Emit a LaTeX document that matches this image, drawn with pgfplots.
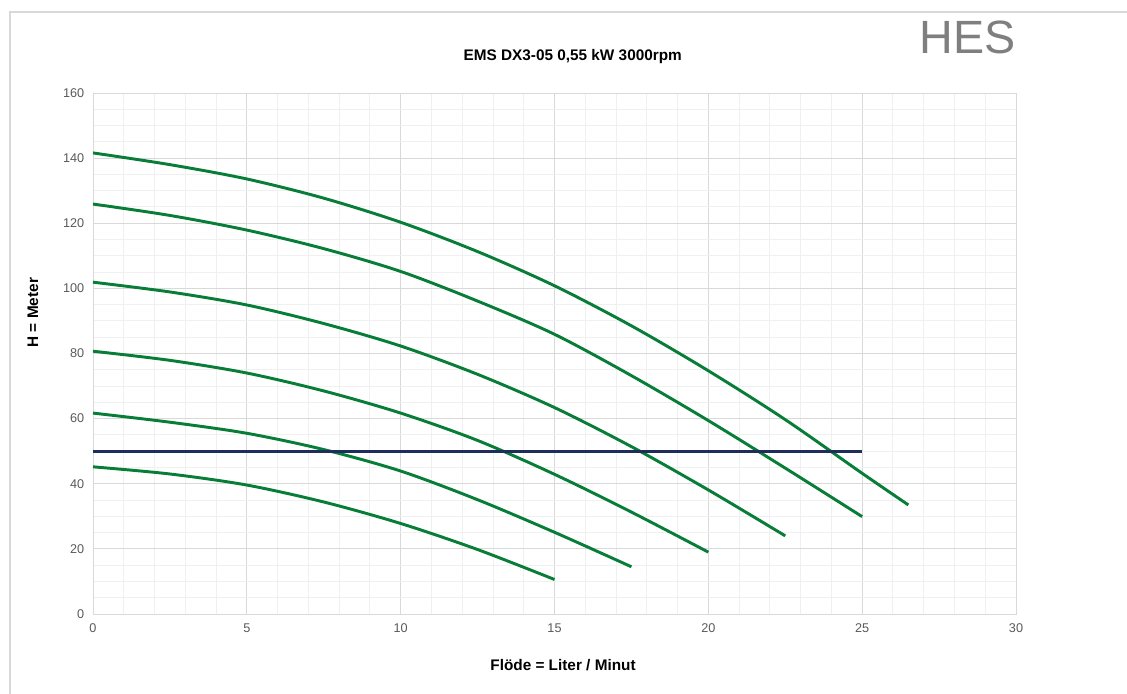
\documentclass[border=0pt]{standalone}
\usepackage{fontspec}
\setmainfont{Liberation Sans}
\usepackage{pgfplots}
\pgfplotsset{compat=1.18}
\definecolor{curvegreen}{RGB}{8,125,56}
\definecolor{navyline}{RGB}{31,45,90}
\definecolor{majgrid}{RGB}{217,217,217}
\definecolor{mingrid}{RGB}{240,240,240}
\definecolor{ticktext}{RGB}{89,89,89}
\definecolor{logogray}{RGB}{127,127,127}
\begin{document}
\begin{tikzpicture}
\path[use as bounding box] (-69.75pt,-59.25pt) rectangle (775.5pt,460.5pt);
\draw[majgrid, line width=0.9pt] (-62.25pt,-70pt) -- (-62.25pt,451.5pt) -- (790pt,451.5pt);
\begin{axis}[
  at={(0pt,0pt)}, anchor=south west,
  scale only axis,
  width=692.25pt, height=390.75pt,
  xmin=0, xmax=30, ymin=0, ymax=160,
  xtick={0,5,...,30},
  ytick={0,20,...,160},
  minor x tick num=4,
  minor y tick num=3,
  grid=both,
  major grid style={majgrid, line width=0.7pt},
  minor grid style={mingrid, line width=0.7pt},
  axis line style={majgrid, line width=0.7pt},
  tick style={draw=none},
  /pgf/number format/assume math mode=true,
  ticklabel style={font=\fontsize{9.5}{11}\selectfont, text=ticktext},
  yticklabel style={xshift=-3pt},
  xticklabel style={yshift=-4pt},
  clip=false,
]
\addplot[curvegreen, line width=2.2pt, smooth] coordinates {
 (0,141.6) (2.5,138.0) (5,133.6) (7.5,127.7) (10,120.3) (12.5,111.3) (15,100.8) (17.5,88.5) (20,74.7) (22.5,59.7) (25,43.2) (26.5,33.5)};
\addplot[curvegreen, line width=2.2pt, smooth] coordinates {
 (0,125.9) (2.5,122.4) (5,117.9) (7.5,112.2) (10,105.2) (12.5,96.1) (15,85.9) (17.5,73.2) (20,59.4) (22.5,44.8) (25,29.9)};
\addplot[curvegreen, line width=2.2pt, smooth] coordinates {
 (0,101.9) (2.5,98.9) (5,94.9) (7.5,89.2) (10,82.3) (12.5,73.6) (15,63.4) (17.5,51.4) (20,38.1) (22.5,24.0)};
\addplot[curvegreen, line width=2.2pt, smooth] coordinates {
 (0,80.7) (2.5,77.9) (5,74.0) (7.5,68.5) (10,61.7) (12.5,53.3) (15,42.9) (17.5,31.3) (20,19.0)};
\addplot[curvegreen, line width=2.2pt, smooth] coordinates {
 (0,61.7) (2.5,58.9) (5,55.5) (7.5,50.5) (10,43.9) (12.5,35.1) (15,25.1) (17.5,14.5)};
\addplot[curvegreen, line width=2.2pt, smooth] coordinates {
 (0,45.2) (2.5,43.0) (5,39.6) (7.5,34.4) (10,27.8) (12.5,19.8) (15,10.6)};
\addplot[navyline, line width=2.2pt] coordinates {(0,50) (25,50)};
\end{axis}
\node[font=\fontsize{11.5}{13}\selectfont\bfseries] at (359.8pt,417.75pt) {EMS DX3-05 0,55 kW 3000rpm};
\node[font=\fontsize{35}{40}\selectfont, text=logogray] at (655.9pt,432.4pt) {HES};
\node[font=\fontsize{11.5}{13}\selectfont\bfseries, rotate=90] at (-45pt,226pt) {H = Meter};
\node[font=\fontsize{11.5}{13}\selectfont\bfseries] at (352.5pt,-38.25pt) {Flöde = Liter / Minut};
\end{tikzpicture}
\end{document}
